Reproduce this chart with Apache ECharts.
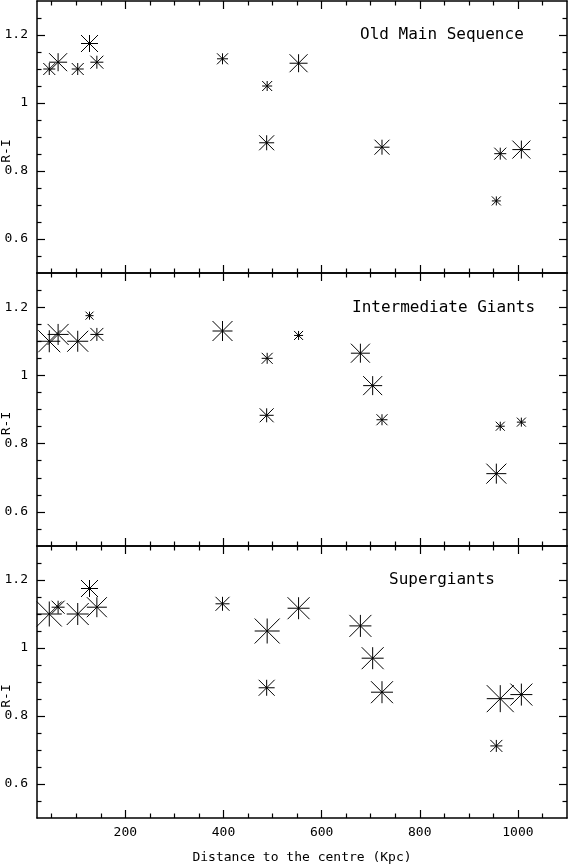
<!DOCTYPE html>
<html>
<head>
<meta charset="utf-8">
<script src="https://cdn.jsdelivr.net/npm/echarts@6/dist/echarts.min.js"></script>
<style>
html, body { margin: 0; padding: 0; background: #fff; }
#chart { width: 568px; height: 867px; }
</style>
</head>
<body>
<div id="chart"></div>
<script>
// distance to the centre (Kpc) and R-I colour of each field
var distance = [45, 63, 103, 127, 142, 398, 489, 488, 553, 679, 704, 723, 964, 956, 1007];
var colourRI = [1.10, 1.12, 1.10, 1.175, 1.12, 1.13, 1.05, 0.883, 1.117, 1.065, 0.97, 0.87, 0.851, 0.712, 0.863];
// symbol size per panel (null = not plotted)
var sizeOld = [12, 18, 12, 17, 13, 11, 10, 15, 18, null, null, 15, 12, 9, 18];
var sizeInter = [22, 21, 21, 8, 13, 20, 11, 14, 9, 19, 19, 11, 9, 20, 9];
var sizeSuper = [25, 13, 22, 17, 20, 14, 25, 16, 22, 22, 22, 22, 27, 12, 22];

var panelNames = ['Old Main Sequence', 'Intermediate Giants', 'Supergiants'];
var panelSizes = [sizeOld, sizeInter, sizeSuper];

var xMajor = [200, 400, 600, 800, 1000];
var xMinor = [50, 100, 150, 250, 300, 350, 450, 500, 550, 650, 700, 750, 850, 900, 950, 1050];
var yMajor = [0.6, 0.8, 1, 1.2];
var yMinor = [0.55, 0.65, 0.7, 0.75, 0.85, 0.9, 0.95, 1.05, 1.1, 1.15, 1.25];

var font = 'DejaVu Sans Mono';
var star = 'path://M0,-1L0,1M-1,0L1,0M-1,-1L1,1M-1,1L1,-1';

var grids = [
    {left: 37, width: 530, top: 1, height: 272, containLabel: false, outerBoundsMode: 'none'},
    {left: 37, width: 530, top: 273, height: 273, containLabel: false, outerBoundsMode: 'none'},
    {left: 37, width: 530, top: 546, height: 272, containLabel: false, outerBoundsMode: 'none'}
];

var xAxes = [], yAxes = [], series = [], titles = [];
var titleLeft = [360, 352, 389];
var titleTop = [27, 300, 572];
var plain = function (v) { return String(v); };

for (var g = 0; g < 3; g++) {
    var last = g === 2;
    ['bottom', 'top'].forEach(function (pos) {
        // major ticks + frame line
        xAxes.push({
            gridIndex: g, type: 'value', min: 20, max: 1100, position: pos,
            axisLine: {show: true, onZero: false, lineStyle: {color: '#000', width: 1.5}},
            axisTick: {show: true, inside: true, length: 8, customValues: xMajor, lineStyle: {color: '#000', width: 1.2}},
            axisLabel: {show: last && pos === 'bottom', customValues: xMajor, margin: 8, formatter: plain,
                color: '#000', fontFamily: font, fontSize: 13},
            splitLine: {show: false},
            name: (last && pos === 'bottom') ? 'Distance to the centre (Kpc)' : '',
            nameLocation: 'middle', nameGap: 33, nameMoveOverlap: false,
            nameTextStyle: {color: '#000', fontFamily: font, fontSize: 13}
        });
        // minor ticks
        xAxes.push({
            gridIndex: g, type: 'value', min: 20, max: 1100, position: pos,
            axisLine: {show: false, onZero: false},
            axisTick: {show: true, inside: true, length: 4.5, customValues: xMinor, lineStyle: {color: '#000', width: 1.2}},
            axisLabel: {show: false},
            splitLine: {show: false}
        });
    });
    ['left', 'right'].forEach(function (pos) {
        yAxes.push({
            gridIndex: g, type: 'value', min: 0.5, max: 1.3, position: pos,
            axisLine: {show: true, onZero: false, lineStyle: {color: '#000', width: 1.5}},
            axisTick: {show: true, inside: true, length: 8, customValues: yMajor, lineStyle: {color: '#000', width: 1.2}},
            axisLabel: {show: pos === 'left', customValues: yMajor, margin: 9, formatter: plain,
                color: '#000', fontFamily: font, fontSize: 13},
            splitLine: {show: false},
            name: pos === 'left' ? 'R-I' : '',
            nameLocation: 'middle', nameGap: 24, nameRotate: 90, nameMoveOverlap: false,
            nameTextStyle: {color: '#000', fontFamily: font, fontSize: 13, padding: [0, 28, 0, 0]}
        });
        yAxes.push({
            gridIndex: g, type: 'value', min: 0.5, max: 1.3, position: pos,
            axisLine: {show: false, onZero: false},
            axisTick: {show: true, inside: true, length: 4.5, customValues: yMinor, lineStyle: {color: '#000', width: 1.2}},
            axisLabel: {show: false},
            splitLine: {show: false}
        });
    });

    var pts = [];
    for (var i = 0; i < distance.length; i++) {
        if (panelSizes[g][i] == null) continue;
        pts.push([distance[i], colourRI[i], panelSizes[g][i]]);
    }
    series.push({
        type: 'scatter',
        xAxisIndex: g * 4,
        yAxisIndex: g * 4,
        symbol: star,
        symbolSize: function (val) { return val[2]; },
        itemStyle: {color: 'transparent', borderColor: '#000', borderWidth: 1, opacity: 1},
        emphasis: {disabled: true},
        data: pts
    });

    titles.push({
        text: panelNames[g], left: titleLeft[g], top: titleTop[g], padding: 0,
        textStyle: {color: '#000', fontFamily: font, fontSize: 16, fontWeight: 'normal'}
    });
}

var myChart = echarts.init(document.getElementById('chart'));
myChart.setOption({
    animation: false,
    backgroundColor: '#fff',
    title: titles,
    grid: grids,
    xAxis: xAxes,
    yAxis: yAxes,
    series: series
});
</script>
</body>
</html>
